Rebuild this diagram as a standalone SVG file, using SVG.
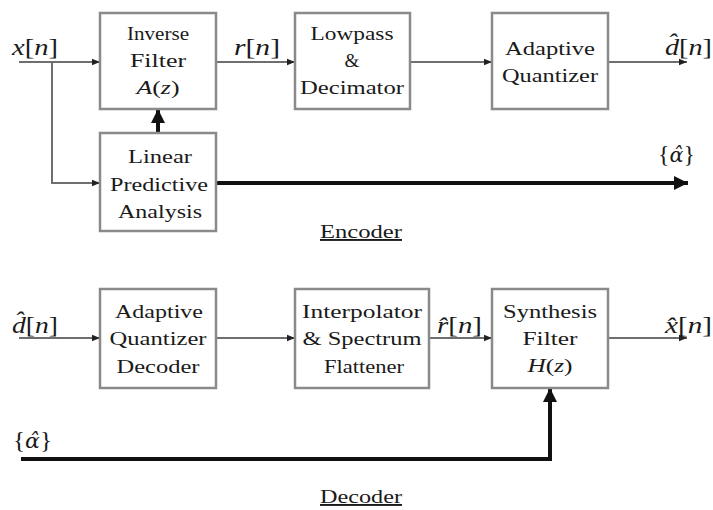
<svg xmlns="http://www.w3.org/2000/svg" width="713" height="510" viewBox="0 0 713 510">
  <style>
    .box { fill: #ffffff; stroke: #8a8a8a; stroke-width: 2.5; }
    .t { font-family: "Liberation Serif", "Times New Roman", serif; font-size: 19px; fill: #1a1a1a; text-anchor: middle; }
    .lbl { font-family: "Liberation Serif", "Times New Roman", serif; font-size: 23px; fill: #1a1a1a; }
    .it { font-style: italic; }
    .gr { font-family: "DejaVu Serif", serif; font-style: italic; font-size: 20px; }
    .thin { fill: none; stroke: #6e6e6e; stroke-width: 2; }
    .thick { fill: none; stroke: #111111; stroke-width: 4; }
    .cap { font-family: "Liberation Serif", "Times New Roman", serif; font-size: 19px; fill: #1a1a1a; text-anchor: middle; text-decoration: underline; }
  </style>
  <defs>
    <marker id="ah" viewBox="0 0 10 10" refX="10" refY="5" markerWidth="4" markerHeight="4" orient="auto" markerUnits="strokeWidth">
      <path d="M0,1 L10,5 L0,9 z" fill="#222222"/>
    </marker>
    <marker id="ahk" viewBox="0 0 10 10" refX="10" refY="5" markerWidth="3.5" markerHeight="3.5" orient="auto" markerUnits="strokeWidth">
      <path d="M0,0 L10,5 L0,10 z" fill="#111111"/>
    </marker>
  </defs>

  <rect width="713" height="510" fill="#ffffff"/>

  <!-- connectors -->
  <g id="connectors">
    <path class="thin" d="M19,62 H100" marker-end="url(#ah)"/>
    <path class="thin" d="M52,62 V183 H100" marker-end="url(#ah)"/>
    <path class="thin" d="M216,62 H295" marker-end="url(#ah)"/>
    <path class="thin" d="M410,62 H492" marker-end="url(#ah)"/>
    <path class="thin" d="M608,62 H687" marker-end="url(#ah)"/>
    <path class="thick" d="M158,133 V109" marker-end="url(#ahk)"/>
    <path class="thick" d="M216,183 H688" marker-end="url(#ahk)"/>

    <path class="thin" d="M19,338 H100" marker-end="url(#ah)"/>
    <path class="thin" d="M216,338 H295" marker-end="url(#ah)"/>
    <path class="thin" d="M429,338 H492" marker-end="url(#ah)"/>
    <path class="thin" d="M608,338 H687" marker-end="url(#ah)"/>
    <path class="thick" d="M21,459 H550 V388" marker-end="url(#ahk)"/>
  </g>

  <!-- encoder -->
  <g id="inverse-filter">
    <rect class="box" x="100" y="13" width="116" height="96"/>
    <text class="t" x="158" y="40" textLength="62" lengthAdjust="spacingAndGlyphs">Inverse</text>
    <text class="t" x="158" y="67" textLength="56" lengthAdjust="spacingAndGlyphs">Filter</text>
    <text class="t" x="158" y="94" textLength="43" lengthAdjust="spacingAndGlyphs"><tspan class="it">A</tspan>(<tspan class="it">z</tspan>)</text>
  </g>
  <g id="lpc-analysis">
    <rect class="box" x="100" y="133" width="116" height="98"/>
    <text class="t" x="160" y="163" textLength="64" lengthAdjust="spacingAndGlyphs">Linear</text>
    <text class="t" x="159" y="191" textLength="98" lengthAdjust="spacingAndGlyphs">Predictive</text>
    <text class="t" x="160" y="218" textLength="84" lengthAdjust="spacingAndGlyphs">Analysis</text>
  </g>
  <g id="lowpass-decimator">
    <rect class="box" x="295" y="13" width="115" height="96"/>
    <text class="t" x="352" y="40" textLength="83" lengthAdjust="spacingAndGlyphs">Lowpass</text>
    <text class="t" x="352" y="67">&amp;</text>
    <text class="t" x="352" y="94" textLength="104" lengthAdjust="spacingAndGlyphs">Decimator</text>
  </g>
  <g id="adaptive-quantizer">
    <rect class="box" x="492" y="13" width="116" height="96"/>
    <text class="t" x="550" y="55" textLength="90" lengthAdjust="spacingAndGlyphs">Adaptive</text>
    <text class="t" x="550" y="82" textLength="96" lengthAdjust="spacingAndGlyphs">Quantizer</text>
  </g>

  <!-- decoder -->
  <g id="quantizer-decoder">
    <rect class="box" x="100" y="289" width="116" height="99"/>
    <text class="t" x="159" y="318" textLength="88" lengthAdjust="spacingAndGlyphs">Adaptive</text>
    <text class="t" x="158" y="345" textLength="97" lengthAdjust="spacingAndGlyphs">Quantizer</text>
    <text class="t" x="158" y="373" textLength="83" lengthAdjust="spacingAndGlyphs">Decoder</text>
  </g>
  <g id="interpolator">
    <rect class="box" x="295" y="289" width="134" height="99"/>
    <text class="t" x="362" y="318" textLength="120" lengthAdjust="spacingAndGlyphs">Interpolator</text>
    <text class="t" x="362" y="345" textLength="119" lengthAdjust="spacingAndGlyphs">&amp; Spectrum</text>
    <text class="t" x="364" y="373" textLength="80" lengthAdjust="spacingAndGlyphs">Flattener</text>
  </g>
  <g id="synthesis-filter">
    <rect class="box" x="492" y="289" width="116" height="99"/>
    <text class="t" x="550" y="318" textLength="94" lengthAdjust="spacingAndGlyphs">Synthesis</text>
    <text class="t" x="550" y="345" textLength="55" lengthAdjust="spacingAndGlyphs">Filter</text>
    <text class="t" x="550" y="372" textLength="45" lengthAdjust="spacingAndGlyphs"><tspan class="it">H</tspan>(<tspan class="it">z</tspan>)</text>
  </g>

  <!-- signal labels -->
  <g id="labels">
    <text class="lbl" x="12" y="55" textLength="46" lengthAdjust="spacingAndGlyphs"><tspan class="it">x</tspan>[<tspan class="it">n</tspan>]</text>
    <text class="lbl" x="234" y="55" textLength="46" lengthAdjust="spacingAndGlyphs"><tspan class="it">r</tspan>[<tspan class="it">n</tspan>]</text>
    <text class="lbl" x="665" y="55" textLength="47" lengthAdjust="spacingAndGlyphs"><tspan class="it">d̂</tspan>[<tspan class="it">n</tspan>]</text>
    <text class="lbl" x="658" y="162" textLength="37" lengthAdjust="spacingAndGlyphs">{<tspan class="gr">α̂</tspan>}</text>
    <text class="lbl" x="12" y="333" textLength="46" lengthAdjust="spacingAndGlyphs"><tspan class="it">d̂</tspan>[<tspan class="it">n</tspan>]</text>
    <text class="lbl" x="437" y="333" textLength="45" lengthAdjust="spacingAndGlyphs"><tspan class="it">r̂</tspan>[<tspan class="it">n</tspan>]</text>
    <text class="lbl" x="665" y="333" textLength="47" lengthAdjust="spacingAndGlyphs"><tspan class="it">x̂</tspan>[<tspan class="it">n</tspan>]</text>
    <text class="lbl" x="13" y="448" textLength="39" lengthAdjust="spacingAndGlyphs">{<tspan class="gr">α̂</tspan>}</text>
  </g>

  <g id="captions">
    <text class="cap" x="361" y="238" textLength="82" lengthAdjust="spacingAndGlyphs">Encoder</text>
    <text class="cap" x="361" y="503" textLength="82" lengthAdjust="spacingAndGlyphs">Decoder</text>
  </g>
</svg>
